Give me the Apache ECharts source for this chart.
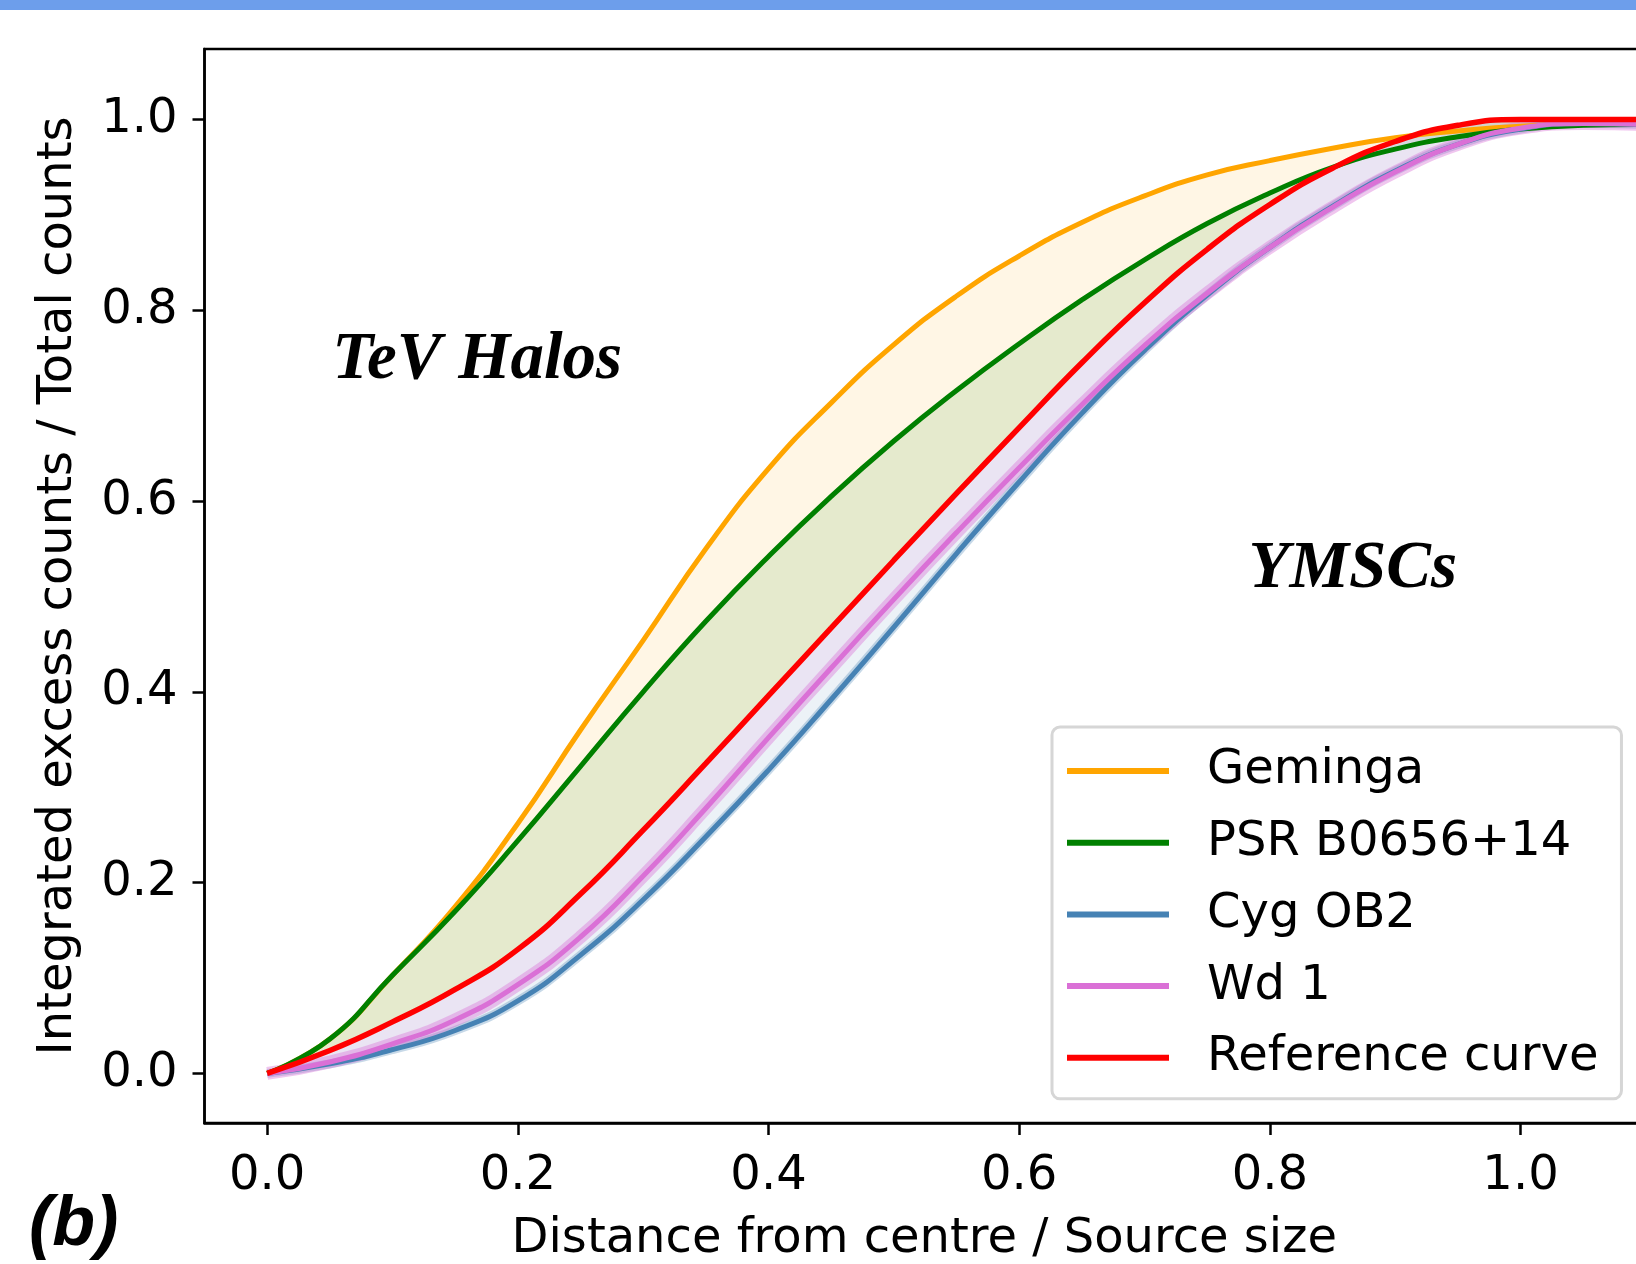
<!DOCTYPE html>
<html>
<head>
<meta charset="utf-8">
<script src="https://cdn.jsdelivr.net/npm/echarts@6/dist/echarts.min.js"></script>
<style>
  html, body { margin: 0; padding: 0; background: #fff; }
  #chart { width: 1636px; height: 1264px; }
</style>
</head>
<body>
<div id="chart"></div>
<script>
// distance from centre / source size
const distance = [0, 0.05, 0.1, 0.15, 0.2, 0.25, 0.3, 0.35, 0.4, 0.45, 0.5, 0.55,
  0.6, 0.65, 0.7, 0.75, 0.8, 0.85, 0.9, 0.95, 1.0, 1.05, 1.1, 1.15]

// integrated excess counts / total counts
const geminga = [0, 0.036, 0.103, 0.175, 0.262, 0.36, 0.454, 0.55, 0.634, 0.703, 0.764, 0.815,
  0.857, 0.892, 0.920, 0.942, 0.957, 0.970, 0.981, 0.988, 0.993, 0.995, 0.996, 0.996]
const psr = [0, 0.036, 0.103, 0.170, 0.244, 0.322, 0.40, 0.474, 0.542, 0.605, 0.663, 0.716,
  0.765, 0.811, 0.853, 0.891, 0.923, 0.950, 0.969, 0.982, 0.990, 0.994, 0.995, 0.995]
const cyg = [0, 0.010, 0.025, 0.045, 0.076, 0.124, 0.182, 0.248, 0.318, 0.392, 0.468, 0.545,
  0.620, 0.692, 0.758, 0.816, 0.866, 0.909, 0.946, 0.974, 0.990, 0.996, 0.995, 0.995]
const wd1 = [0, 0.012, 0.031, 0.056, 0.093, 0.143, 0.207, 0.278, 0.352, 0.425, 0.497, 0.567,
  0.635, 0.701, 0.763, 0.818, 0.866, 0.908, 0.945, 0.974, 0.991, 0.996, 0.995, 0.995]
const reference = [0, 0.024, 0.054, 0.088, 0.130, 0.188, 0.255, 0.325, 0.396, 0.467, 0.538, 0.608,
  0.677, 0.745, 0.808, 0.864, 0.911, 0.949, 0.977, 0.994, 1.0, 1.0, 1.0, 1.0]

const xTicks = [0, 0.2, 0.4, 0.6, 0.8, 1.0]
const yTicks = [0, 0.2, 0.4, 0.6, 0.8, 1.0]

const names = ['Geminga', 'PSR B0656+14', 'Cyg OB2', 'Wd 1', 'Reference curve']
const colors = ['#FFA500', '#008000', '#4682B4', '#DA70D6', '#FF0000']

const font = 'DejaVu Sans'
const chart = echarts.init(document.getElementById('chart'))

function pairs(vals) {
  return distance.map((x, i) => [x, vals[i]])
}

// shaded region between each curve and the reference curve.
// y is put in the first column so the stack runs on y, not x
function fillSeries(vals, color, idx) {
  const common = {
    type: 'line',
    stack: 'fill' + idx,
    stackStrategy: 'all',
    encode: { x: 1, y: 0 },
    symbol: 'none',
    smooth: true,
    silent: true,
    lineStyle: { opacity: 0 },
    z: 1
  }
  return [
    Object.assign({}, common, {
      name: '_base' + idx,
      data: distance.map((x, i) => [reference[i], x])
    }),
    Object.assign({}, common, {
      name: '_fill' + idx,
      data: distance.map((x, i) => [vals[i] - reference[i], x]),
      areaStyle: { color: color, opacity: 0.1 }
    })
  ]
}

function lineSeries(name, vals, color, width) {
  return {
    name: name,
    type: 'line',
    data: pairs(vals),
    color: color,
    symbol: 'none',
    smooth: true,
    lineStyle: { color: color, width: width },
    z: 3
  }
}

// lighter spread drawn under the YMSC curves
function bandSeries(vals, color, width, opacity) {
  return {
    name: '_band',
    type: 'line',
    data: pairs(vals),
    symbol: 'none',
    smooth: true,
    silent: true,
    lineStyle: { color: color, width: width, opacity: opacity },
    z: 2
  }
}

const series = [].concat(
  fillSeries(geminga, colors[0], 0),
  fillSeries(psr, colors[1], 1),
  fillSeries(cyg, colors[2], 2),
  fillSeries(wd1, colors[3], 3),
  [
    lineSeries(names[0], geminga, colors[0], 5),
    lineSeries(names[1], psr, colors[1], 5),
    bandSeries(cyg, colors[2], 9, 0.3),
    lineSeries(names[2], cyg, colors[2], 5),
    bandSeries(wd1, colors[3], 13, 0.4),
    lineSeries(names[3], wd1, colors[3], 5),
    lineSeries(names[4], reference, colors[4], 5.5)
  ]
)

const axisCommon = {
  type: 'value',
  splitLine: { show: false },
  axisLine: { show: true, onZero: false, lineStyle: { color: '#000', width: 2.5 } },
  axisTick: { show: true, length: 12, lineStyle: { color: '#000', width: 2.5 } },
  nameLocation: 'middle',
  nameTextStyle: { fontFamily: font, fontSize: 48, color: '#000' }
}

chart.setOption({
  animation: false,
  backgroundColor: '#fff',
  grid: {
    left: 204.5, top: 49, right: -8, bottom: 141,
    show: true, borderColor: '#000', borderWidth: 2.5,
    outerBoundsMode: 'none'
  },
  xAxis: Object.assign({}, axisCommon, {
    min: -0.05, max: 1.0985,
    axisTick: Object.assign({}, axisCommon.axisTick, { customValues: xTicks }),
    axisLabel: {
      customValues: xTicks, margin: 30,
      formatter: v => v.toFixed(1),
      fontFamily: font, fontSize: 48, color: '#000'
    },
    name: 'Distance from centre / Source size',
    nameGap: 93
  }),
  yAxis: Object.assign({}, axisCommon, {
    min: -0.052, max: 1.074,
    axisTick: Object.assign({}, axisCommon.axisTick, { customValues: yTicks }),
    axisLabel: {
      customValues: yTicks, margin: 27,
      formatter: v => v.toFixed(1),
      fontFamily: font, fontSize: 48, color: '#000'
    },
    name: 'Integrated excess counts / Total counts',
    nameRotate: 90,
    nameGap: 122
  }),
  legend: {
    data: names,
    orient: 'vertical',
    left: 1052, top: 727,
    padding: [16, 23, 13, 15],
    itemWidth: 102, itemHeight: 6, itemGap: 15.7,
    icon: 'rect',
    backgroundColor: 'rgba(255,255,255,0.8)',
    borderColor: '#d6d6d6', borderWidth: 3, borderRadius: 8,
    textStyle: { fontFamily: font, fontSize: 48, color: '#000', lineHeight: 56, padding: [0, 0, 0, 33] }
  },
  series: series
})

const halos = chart.convertToPixel({ gridIndex: 0 }, [0.052, 0.747])
const ymsc = chart.convertToPixel({ gridIndex: 0 }, [0.783, 0.528])
const titleFont = 'italic bold 67px "Liberation Serif"'

chart.setOption({
  graphic: [
    { type: 'rect', shape: { x: 0, y: 0, width: 1636, height: 10 }, style: { fill: '#6d9eeb' }, z: 10 },
    { type: 'text', x: halos[0], y: halos[1], style: { text: 'TeV Halos', font: titleFont, fill: '#000', align: 'left', verticalAlign: 'middle' }, z: 10 },
    { type: 'text', x: ymsc[0], y: ymsc[1], style: { text: 'YMSCs', font: titleFont, fill: '#000', align: 'left', verticalAlign: 'middle' }, z: 10 },
    { type: 'text', x: 29, y: 1226, style: { text: '(b)', font: 'italic bold 70px "Liberation Sans"', fill: '#000', align: 'left', verticalAlign: 'middle' }, z: 10 }
  ]
})
</script>
</body>
</html>
